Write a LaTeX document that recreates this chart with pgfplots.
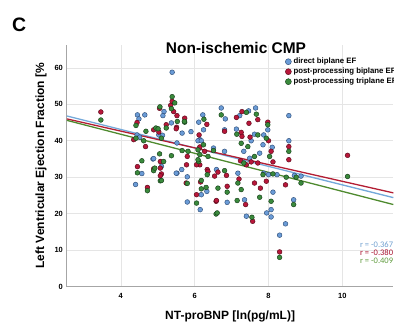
\documentclass[border=0pt]{standalone}
\usepackage{pgfplots}
\pgfplotsset{compat=1.18}
\usepackage{fontspec}
\setmainfont{Liberation Sans}
\newfontfamily\carlito{Carlito}
\definecolor{bfill}{HTML}{6A9BD6}
\definecolor{bedge}{HTML}{2E4E78}
\definecolor{rfill}{HTML}{B8173A}
\definecolor{redge}{HTML}{5A0A1A}
\definecolor{gfill}{HTML}{3A8A3C}
\definecolor{gedge}{HTML}{173F1A}
\definecolor{bline}{HTML}{74A9DA}
\definecolor{rline}{HTML}{B31D33}
\definecolor{gline}{HTML}{4E8A2E}
\definecolor{rtxtb}{HTML}{6F9FCF}
\definecolor{rtxtr}{HTML}{A8122E}
\definecolor{rtxtg}{HTML}{5E9A3C}
\begin{document}
\begin{tikzpicture}
\begin{axis}[
  at={(0pt,0pt)}, anchor=south west,
  scale only axis, width=327pt, height=242pt,
  xmin=2.54, xmax=11.38, ymin=0, ymax=66.3,
  xtick={4,6,8,10}, ytick={0,10,20,30,40,50,60},
  xticklabels={4,6,8,10}, yticklabels={0,10,20,30,40,50,60},
  axis x line*=bottom, axis y line*=left,
  axis line style={draw=black!35, line width=0.8pt, -},
  major tick length=0pt,
  grid=major, major grid style={draw=black!10, line width=0.6pt},
  /pgf/number format/assume math mode=true,
  xticklabel style={font=\fontsize{7.5}{8}\selectfont\bfseries, yshift=-3.5pt},
  yticklabel style={font=\fontsize{7.5}{8}\selectfont\bfseries, xshift=-0.5pt},
  xlabel={NT-proBNP [ln(pg/mL)]},
  ylabel={Left Ventricular Ejection Fraction [\%},
  every axis x label/.style={at={(axis description cs:0.5,0)}, yshift=-30pt, anchor=center,
    font=\fontsize{12}{13}\selectfont\bfseries},
  every axis y label/.style={at={(axis description cs:0,0.5)}, xshift=-26pt, rotate=90, anchor=center,
    font=\fontsize{12}{13}\selectfont\bfseries},
  clip=false,
  legend style={at={(axis description cs:0.668,0.952)}, anchor=north west, draw=none, fill=none,
    inner sep=0pt, row sep=0pt, font=\fontsize{7.8}{8}\selectfont\bfseries,
    nodes={inner sep=1.5pt, text height=5.5pt, text depth=1.5pt}},
  legend cell align=left,
  legend image code/.code={\draw[#1, mark size=3pt] plot coordinates {(3pt,0pt)}; \path (0pt,0pt) (6.5pt,0pt);},
]
% direct biplane EF
\addplot[only marks, mark=*, mark size=2.4pt, mark options={fill=bfill, draw=bedge, line width=0.45pt}] coordinates {
(4.45,47.1) (4.49,46.0) (4.65,47.1) (4.44,41.6) (4.51,41.0) (4.57,31.0) (4.40,28.0)
(4.87,35.0) (4.89,35.1) (5.03,41.6) (5.13,41.5) (5.17,48.0) (5.14,46.9) (5.39,58.8)
(5.37,44.9) (5.52,39.4) (5.10,33.0) (5.65,32.1) (5.52,31.1) (5.80,30.1) (5.80,23.2)
(6.15,21.1) (6.11,45.1) (6.14,40.3) (6.22,47.1) (6.24,43.0) (6.09,40.0) (6.18,40.0)
(6.51,38.0) (6.81,37.1) (5.66,42.1) (5.50,31.1) (6.18,25.2) (6.88,23.1) (6.72,49.0)
(6.83,46.0) (7.22,46.9) (7.46,48.2) (7.65,49.0) (7.98,43.0) (8.55,46.9) (8.55,40.0)
(6.81,43.0) (7.13,43.2) (7.62,41.8) (7.87,41.6) (7.85,38.9) (8.10,38.2) (7.33,37.1)
(7.49,35.2) (7.76,36.6) (6.59,32.1) (7.17,31.1) (7.87,31.1) (8.00,30.7) (8.23,30.7)
(8.70,30.5) (8.88,30.3) (8.12,25.9) (6.33,26.1) (7.35,23.8) (8.07,21.1) (8.68,23.8)
(7.40,19.3) (7.95,20.2) (8.07,19.1) (8.46,17.2) (8.30,14.1) (7.53,40.0) (5.90,42.5)
};
\addlegendentry{\makebox[90pt][l]{direct biplane EF}}
% post-processing biplane EF
\addplot[only marks, mark=*, mark size=2.4pt, mark options={fill=rfill, draw=redge, line width=0.45pt}] coordinates {
(3.46,47.9) (4.44,45.0) (4.35,40.3) (4.67,38.4) (4.45,32.9) (4.72,27.2) (4.89,43.0)
(5.03,42.4) (5.05,48.9) (5.39,50.8) (5.35,49.7) (5.43,48.0) (5.23,44.4) (5.52,46.9)
(5.51,43.7) (5.73,46.2) (4.89,32.3) (5.07,34.3) (5.07,32.5) (5.10,30.9) (5.78,33.4)
(6.05,25.2) (6.16,28.7) (6.14,33.4) (6.12,41.6) (6.33,44.5) (5.50,43.3) (6.14,38.3)
(5.80,35.7) (6.05,33.4) (6.34,32.1) (6.54,30.3) (5.77,28.4) (6.58,23.4) (5.07,30.4)
(7.13,46.4) (7.28,48.0) (7.71,45.8) (7.47,44.8) (7.98,45.1) (8.55,38.4) (8.55,34.8)
(6.81,42.6) (7.26,42.3) (7.28,41.2) (7.50,41.0) (8.07,37.1) (8.12,34.2) (7.24,34.5)
(7.40,33.4) (7.53,34.2) (7.71,33.9) (6.27,37.1) (6.36,31.6) (6.63,31.4) (6.86,30.5)
(7.94,28.9) (8.46,27.9) (6.88,27.5) (7.62,28.4) (7.78,27.0) (7.38,22.5) (6.59,23.6)
(7.57,17.9) (8.30,9.5) (10.14,36.0) (7.20,29.5) (8.00,40.0)
};
\addlegendentry{\makebox[90pt][l]{post-processing biplane EF}}
% post-processing triplane EF
\addplot[only marks, mark=*, mark size=2.4pt, mark options={fill=gfill, draw=gedge, line width=0.45pt}] coordinates {
(3.46,45.7) (4.41,44.2) (4.68,42.6) (4.41,40.7) (4.62,40.0) (4.57,34.5) (4.45,31.2)
(4.72,26.3) (5.06,49.3) (5.39,52.1) (5.46,50.4) (5.37,48.8) (5.23,43.5) (5.53,45.3)
(5.73,45.1) (4.95,43.5) (5.01,43.3) (5.10,40.7) (5.66,37.3) (5.82,37.1) (6.09,37.5)
(6.14,36.2) (4.89,31.8) (5.05,36.4) (5.16,34.3) (5.07,29.0) (5.37,35.9) (5.80,28.3)
(6.05,22.9) (6.18,26.8) (6.11,34.3) (6.25,45.9) (5.72,45.3) (6.24,38.9) (6.51,37.3)
(6.09,34.8) (6.34,30.7) (6.18,29.1) (6.31,27.2) (6.58,19.9) (5.10,29.1) (4.92,32.5)
(6.72,47.1) (7.40,47.8) (7.67,47.3) (7.98,44.4) (8.55,37.1) (7.14,41.8) (7.71,41.6)
(7.94,40.7) (8.03,35.7) (7.26,39.3) (7.44,38.4) (7.33,33.9) (7.62,35.7) (6.36,35.7)
(6.81,31.8) (8.12,30.9) (8.48,30.0) (8.75,30.0) (8.88,28.4) (7.17,28.4) (7.26,26.6)
(6.63,27.0) (6.88,25.9) (7.76,24.5) (7.15,23.6) (8.07,23.4) (8.68,22.5) (6.61,20.2)
(7.55,19.0) (8.30,8.0) (10.14,30.2) (7.85,30.7)
};
\addlegendentry{\makebox[90pt][l]{post-processing triplane EF}}
% fit lines
\addplot[forget plot, bline, line width=1.3pt] coordinates {(2.54,46.8) (11.38,24.4)};
\addplot[forget plot, rline, line width=1.3pt] coordinates {(2.54,46.0) (11.38,25.7)};
\addplot[forget plot, gline, line width=1.3pt] coordinates {(2.54,45.6) (11.38,22.5)};
% texts
\node[anchor=base, inner sep=0pt, font=\fontsize{15.5}{16}\selectfont\bfseries] at (axis description cs:0.518,1) [yshift=-9pt] {Non-ischemic CMP};
\node[anchor=base west, inner sep=0pt, font=\fontsize{19.5}{20}\selectfont\bfseries] at (axis description cs:-0.168,1) [yshift=13pt] {C};
\node[anchor=west, inner sep=0pt, font=\fontsize{8.5}{9}\selectfont\carlito, text=rtxtb] at (axis description cs:0.896,0.174) {\makebox[0pt][l]{r = -0.367}};
\node[anchor=west, inner sep=0pt, font=\fontsize{8.5}{9}\selectfont\carlito, text=rtxtr] at (axis description cs:0.896,0.140) {\makebox[0pt][l]{r = -0.380}};
\node[anchor=west, inner sep=0pt, font=\fontsize{8.5}{9}\selectfont\carlito, text=rtxtg] at (axis description cs:0.896,0.107) {\makebox[0pt][l]{r = -0.409}};
\path (axis description cs:0,0) ++(-67pt,-37pt) coordinate (bbA);
\path (axis description cs:1,1) ++(0pt,45pt) coordinate (bbB);
\path (bbA) rectangle (bbB);
\end{axis}
\end{tikzpicture}
\end{document}
